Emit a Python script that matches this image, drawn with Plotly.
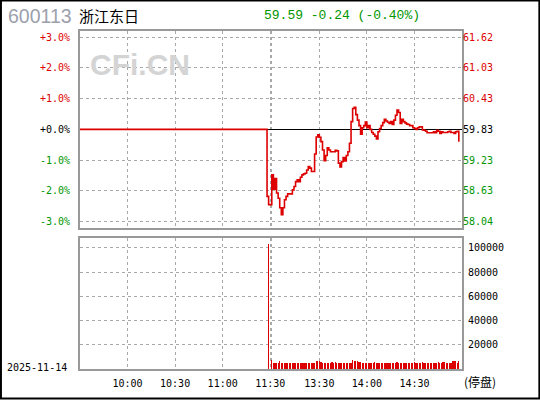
import plotly.graph_objects as go

# ---------------- data ----------------
PREV_CLOSE = 59.83
LAST_PRICE = 59.59
CHANGE = -0.24
CHANGE_PCT_TOTAL = -0.40
CODE = "600113"
NAME = "浙江东日"
DATE = "2025-11-14"
STATUS = "(停盘)"

# minute index: 0 = 9:30 ... 120 = 11:30, 121 = 13:00 ... 241 = 15:00
TIME_TICKS = [30, 60, 90, 120, 121, 151, 181, 211]
TIME_LABELS = ["10:00", "10:30", "11:00", "11:30", "", "13:30", "14:00", "14:30"]

PCT_TICKS = [3, 2, 1, 0, -1, -2, -3]
PCT_LABELS = ["+3.0%", "+2.0%", "+1.0%", "+0.0%", "-1.0%", "-2.0%", "-3.0%"]

VOL_TICKS = [20000, 40000, 60000, 80000, 100000]

PRICE_IDX = [0, 117] + list(range(118, 240))
CHANGE_PCT = [
    0.00, 0.00,
    -2.18, -2.45, -2.45, -1.48, -1.95, -1.60, -2.07, -2.24, -2.55, -2.78,   # 118-127
    -2.55, -2.29, -2.18, -2.10, -2.10, -2.10, -1.97, -1.86, -1.70, -1.64,   # 128-137
    -1.70, -1.56, -1.48, -1.45, -1.43, -1.32, -1.21, -1.26, -1.37, -1.37,   # 138-147
    -0.80, -0.25, -0.18, -0.26, -0.40, -0.67, -1.02, -0.85, -0.60, -0.67,   # 148-157
    -0.73, -0.73, -0.73, -0.68, -0.70, -1.10, -1.22, -1.05, -0.92, -1.03,   # 158-167
    -0.85, -0.73, -0.45, 0.25, 0.68, 0.72, 0.48, 0.30, 0.12, -0.16,         # 168-177
    0.05, 0.12, 0.24, 0.05, 0.12, 0.00, -0.10, -0.16, -0.22, -0.31,         # 178-187
    -0.08, 0.03, 0.12, 0.22, 0.33, 0.27, 0.23, 0.19, 0.25, 0.16,            # 188-197
    0.30, 0.46, 0.63, 0.55, 0.19, 0.33, 0.25, 0.21, 0.17, 0.16,             # 198-207
    0.12, 0.12, 0.05, 0.03, 0.00, 0.05, 0.08, 0.08, -0.02, -0.03,           # 208-217
    -0.06, -0.11, -0.11, -0.11, -0.11, -0.08, -0.11, -0.03, -0.06, -0.13,   # 218-227
    -0.08, -0.10, -0.10, -0.10, -0.08, -0.06, -0.10, -0.10, -0.13, -0.08,   # 228-237
    -0.06, -0.40,                                                            # 238-239
]

VOL_IDX = [119] + list(range(121, 240))
VOLUME = [
    103600,
    7800, 5300, 5300, 5300, 5300, 7000, 5300, 5300, 5300, 5300,   # 121-130
    5300, 5300, 5300, 5300, 5300, 5300, 5300, 5300, 5300, 5300,   # 131-140
    5300, 5300, 5300, 5300, 5300, 5300, 5300, 5300, 6300, 6300,   # 141-150
    6300, 6000, 5300, 5300, 5300, 5300, 5300, 5300, 6100, 5300,   # 151-160
    6100, 5300, 5300, 5300, 5300, 5300, 5300, 5300, 5300, 5300,   # 161-170
    5300, 7800, 6400, 6400, 6200, 6000, 5800, 5300, 5300, 5300,   # 171-180
    5300, 5300, 5300, 5300, 5300, 6100, 5300, 5300, 5300, 5300,   # 181-190
    5300, 5300, 5300, 5300, 5300, 5300, 5300, 5300, 5300, 6100,   # 191-200
    5300, 5300, 5300, 5300, 5300, 5300, 5300, 5300, 5300, 5300,   # 201-210
    6100, 5300, 5300, 5300, 5300, 6100, 5300, 5300, 5300, 5300,   # 211-220
    5300, 5300, 5300, 5300, 5300, 6100, 5300, 5300, 6100, 6100,   # 221-230
    5300, 5300, 5300, 5300, 6300, 6300, 6300, 5300, 7000,         # 231-239
]

# ---------------- styling ----------------
RED = "#dd0000"
GREEN = "#009600"
GRID = "#a8a8a8"
BORDER = "#999999"
MONO = "DejaVu Sans Mono, Liberation Mono, monospace"
CJK = "Noto Sans CJK SC, sans-serif"

W, H = 540, 400
L, R, T, B = 80, 78.3, 31, 30.5
PW, PH = W - L - R, H - T - B


def px_x(x):
    return (x - L) / PW


def px_y(y):
    return (H - B - y) / PH


def col(v):
    return RED if v > 0 else (GREEN if v < 0 else "#000000")


PCT_RANGE = 3.2
price_ticks = [PREV_CLOSE * (1 + p / 100) for p in PCT_TICKS]
pct_text = [f'<span style="color:{col(p)}">{t}</span>' for p, t in zip(PCT_TICKS, PCT_LABELS)]
price_text = [f'<span style="color:{col(p)}">{v:.2f}</span>' for p, v in zip(PCT_TICKS, price_ticks)]

fig = go.Figure()

fig.add_trace(go.Scatter(
    x=PRICE_IDX, y=CHANGE_PCT, mode="lines",
    line=dict(color=RED, width=1.6, shape="hv"),
    xaxis="x", yaxis="y", hoverinfo="skip", showlegend=False,
))
fig.add_trace(go.Bar(
    x=VOL_IDX, y=VOLUME, width=0.75,
    marker=dict(color=RED, line=dict(width=0)),
    xaxis="x2", yaxis="y3", hoverinfo="skip", showlegend=False,
))
# invisible trace so the right-hand price axis is rendered
fig.add_trace(go.Scatter(x=[None], y=[None], xaxis="x", yaxis="y2",
                         showlegend=False, hoverinfo="skip"))

axis_common = dict(
    showgrid=True, gridcolor=GRID, griddash="dot", gridwidth=1,
    showline=True, linecolor=BORDER, linewidth=2, mirror=True,
    zeroline=False, ticks="", automargin=False,
)

top_dom = [px_y(228), 1.0]
bot_dom = [0.0, px_y(238)]

fig.update_layout(
    template="none",
    width=W, height=H,
    margin=dict(l=L, r=R, t=T, b=B, pad=0, autoexpand=False),
    paper_bgcolor="white", plot_bgcolor="white",
    showlegend=False,
    bargap=0,
    xaxis=dict(axis_common, domain=[0, 1], anchor="y", range=[0, 241],
               tickvals=TIME_TICKS, showticklabels=False),
    xaxis2=dict(axis_common, domain=[0, 1], anchor="y3", range=[0, 241], matches="x",
                tickvals=TIME_TICKS, ticktext=TIME_LABELS,
                tickfont=dict(family=MONO, size=10, color="#000000"),
                ticklabelstandoff=4),
    yaxis=dict(axis_common, domain=top_dom, anchor="x", side="left",
               range=[-PCT_RANGE, PCT_RANGE], tickvals=PCT_TICKS, ticktext=pct_text,
               tickfont=dict(family=MONO, size=10), ticklabelstandoff=6,
               zeroline=True, zerolinecolor="#000000", zerolinewidth=1),
    yaxis2=dict(overlaying="y", side="right", anchor="x", automargin=False,
                range=[PREV_CLOSE * (1 - PCT_RANGE / 100), PREV_CLOSE * (1 + PCT_RANGE / 100)],
                tickvals=price_ticks, ticktext=price_text, showgrid=False,
                zeroline=False, showline=False, ticks="",
                tickfont=dict(family=MONO, size=10), ticklabelstandoff=0),
    yaxis3=dict(axis_common, domain=bot_dom, anchor="x2", side="right",
                range=[0, 108500], tickvals=VOL_TICKS, ticktext=[str(v) for v in VOL_TICKS],
                tickfont=dict(family=MONO, size=10, color="#000000"), ticklabelstandoff=2),
)

ann = [
    dict(text="<b>CFi.CN</b>", x=px_x(139.5), y=px_y(65), xref="paper", yref="paper",
         showarrow=False, font=dict(family="Liberation Sans, Arial", size=30, color="#d4d4d4"),
         xanchor="center", yanchor="middle"),
    dict(text=CODE, x=px_x(6), y=px_y(15.5), xref="paper", yref="paper", showarrow=False,
         font=dict(family="Liberation Sans, Arial", size=19.5, color="#9ca0ac"),
         xanchor="left", yanchor="middle"),
    dict(text=NAME, x=px_x(77), y=px_y(15.5), xref="paper", yref="paper", showarrow=False,
         font=dict(family=CJK, size=15, color="#000000"), xanchor="left", yanchor="middle"),
    dict(text=f"{LAST_PRICE:.2f} {CHANGE:+.2f} ({CHANGE_PCT_TOTAL:+.2f}%)",
         x=px_x(262), y=px_y(15.5), xref="paper", yref="paper", showarrow=False,
         font=dict(family="Liberation Mono, monospace", size=13, color=GREEN),
         xanchor="left", yanchor="middle"),
    dict(text=DATE, x=px_x(5), y=px_y(368), xref="paper", yref="paper", showarrow=False,
         font=dict(family=MONO, size=10, color="#000000"), xanchor="left", yanchor="middle"),
    dict(text=STATUS, x=px_x(462), y=px_y(382), xref="paper", yref="paper", showarrow=False,
         font=dict(family=CJK, size=12, color="#000000"), xanchor="left", yanchor="middle"),
]
fig.update_layout(annotations=ann)

fig.add_shape(type="rect", xref="paper", yref="paper",
              x0=px_x(1), x1=px_x(539), y0=px_y(399), y1=px_y(0.5),
              line=dict(color="#000000", width=2), fillcolor="rgba(0,0,0,0)", layer="above")

fig.write_html(
    "out.html",
    config={"displayModeBar": False, "staticPlot": True},
    post_script="document.body.style.margin='0';document.body.style.overflow='hidden';",
)
